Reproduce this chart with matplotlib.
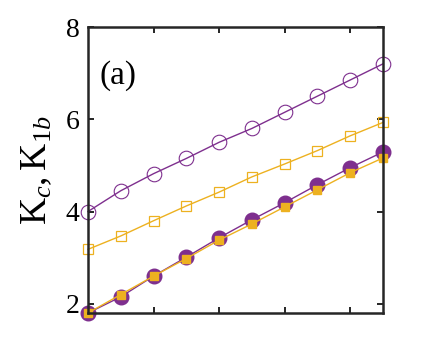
import matplotlib; matplotlib.use("Agg")
import matplotlib.pyplot as plt

plt.rcParams["font.family"] = ["Liberation Serif", "DejaVu Serif"]
plt.rcParams["mathtext.fontset"] = "custom"
plt.rcParams["mathtext.rm"] = "Liberation Serif"
plt.rcParams["mathtext.it"] = "Liberation Serif:italic"

x = list(range(10))
kc_open = [4.0, 4.45, 4.82, 5.15, 5.5, 5.8, 6.15, 6.5, 6.85, 7.2]
k1b_open = [3.18, 3.47, 3.8, 4.12, 4.42, 4.75, 5.03, 5.32, 5.64, 5.93]
kc_fill = [1.8, 2.15, 2.6, 3.01, 3.43, 3.82, 4.19, 4.58, 4.95, 5.29]
k1b_fill = [1.8, 2.2, 2.6, 2.98, 3.38, 3.73, 4.1, 4.47, 4.84, 5.16]
yticks = [2, 4, 6, 8]
xticks = [2, 4, 6, 8]

purple = "#7E2F8E"
orange = "#EDB120"

fig = plt.figure(figsize=(4.24, 3.53), dpi=100)
ax = fig.add_axes([0.2075, 0.1133, 0.6955, 0.8102])

ax.plot(x, kc_open, "-o", color=purple, lw=1.0, ms=10.5, mfc="none", mew=0.8, clip_on=False)
ax.plot(x, k1b_open, "-s", color=orange, lw=1.0, ms=7.5, mfc="none", mew=0.9, clip_on=False)
ax.plot(x, kc_fill, "-o", color=purple, lw=1.0, ms=10.5, clip_on=False)
ax.plot(x, k1b_fill, "-s", color=orange, lw=1.0, ms=5.5, clip_on=False)

ax.set_xlim(0, 9)
ax.set_ylim(1.8, 8)
ax.set_xticks(xticks)
ax.set_xticklabels([])
ax.set_yticks(yticks)
ax.tick_params(direction="in", top=True, right=True, length=4, width=1.2, labelsize=20, pad=6)
for s in ax.spines.values():
    s.set_linewidth(1.8)
    s.set_color("#262626")

ax.set_ylabel(r"$\mathrm{K}_{c},\mathrm{K}_{\mathit{1b}}$", fontsize=27, labelpad=8)
ax.text(0.04, 0.80, "(a)", transform=ax.transAxes, fontsize=24, va="baseline")

fig.savefig("out.png", dpi=100)
